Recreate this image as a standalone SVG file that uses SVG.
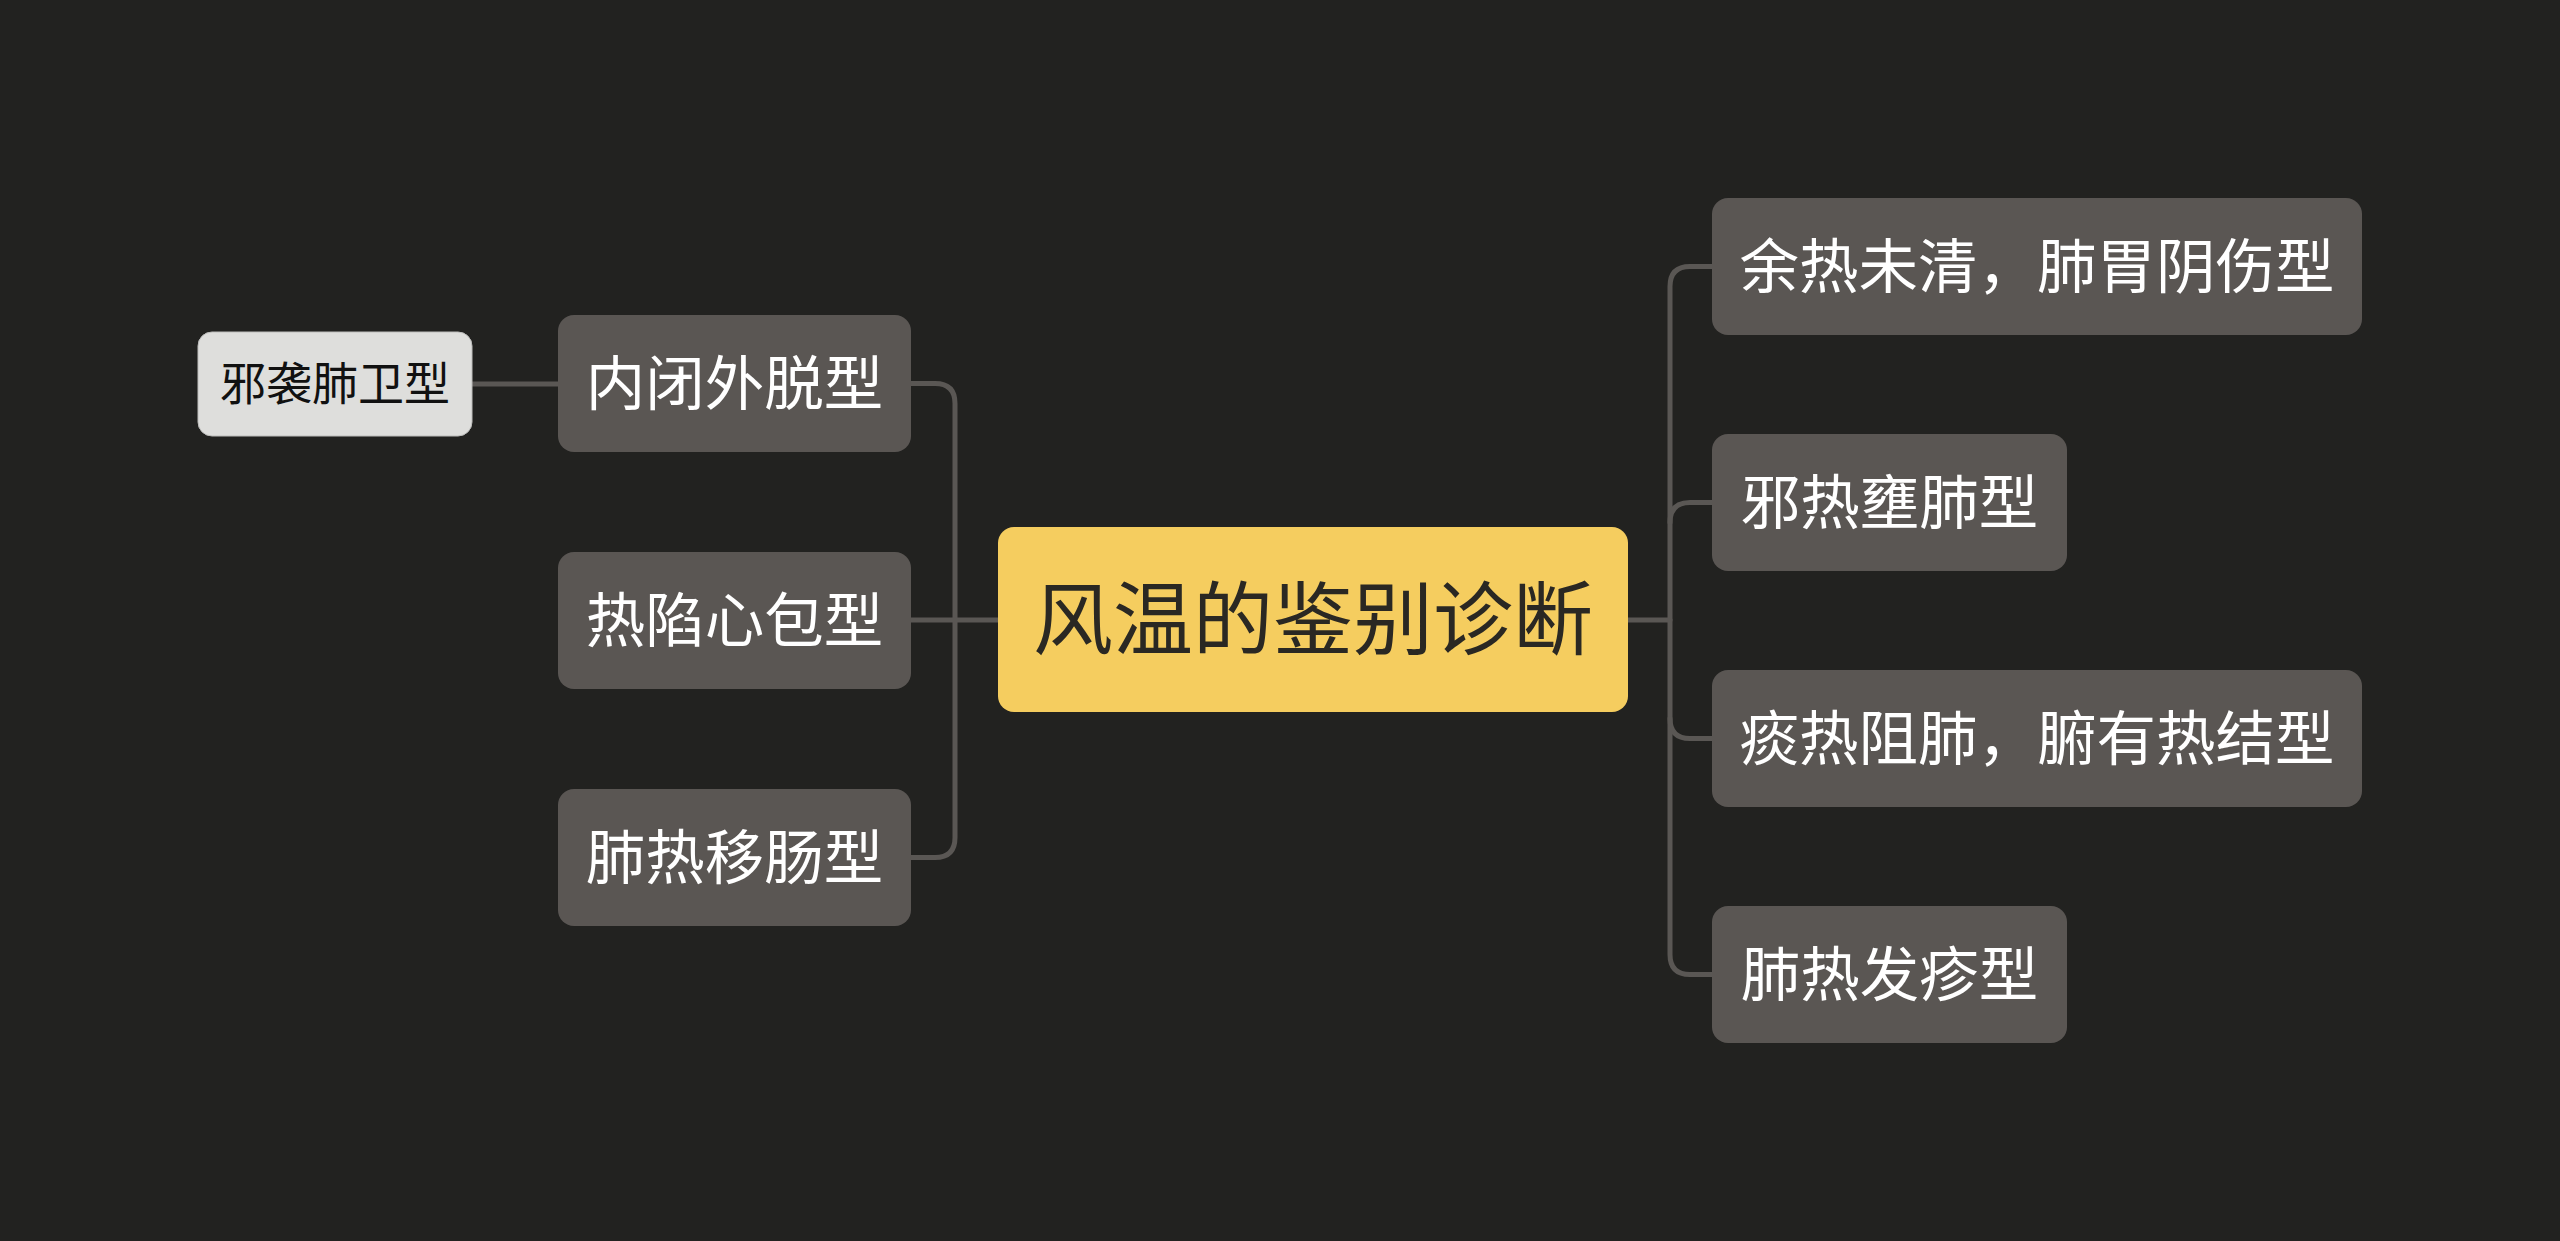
<svg xmlns="http://www.w3.org/2000/svg" width="2560" height="1241" viewBox="0 0 2560 1241">
<style>
.bg{fill:#222220}
.conn{fill:none;stroke:#5a5754;stroke-width:5;stroke-linecap:round}
.node rect{fill:#5a5653}
.node text{fill:#ffffff;font-family:"Noto Sans CJK SC","Noto Sans",sans-serif;font-size:59.5px;text-anchor:middle}
.root rect{fill:#f5cd5f}
.root text{fill:#2a2823;font-family:"Noto Sans CJK SC","Noto Sans",sans-serif;font-size:80px;text-anchor:middle}
.leaf rect{fill:#dededc;stroke:#bdbdbb;stroke-width:1}
.leaf text{fill:#111111;font-family:"Noto Sans CJK SC","Noto Sans",sans-serif;font-size:46px;text-anchor:middle}
</style>
<rect class="bg" x="0" y="0" width="2560" height="1241"/>
<g id="connectors">
<path class="conn" d="M911,383.5 H935 Q955,383.5 955,403.5 V837.5 Q955,857.5 935,857.5 H911"/>
<path class="conn" d="M911,620 H998"/>
<path class="conn" d="M472,384 H558"/>
<path class="conn" d="M1628,620 H1670"/>
<path class="conn" d="M1712,266.5 H1690 Q1670,266.5 1670,286.5 V954.5 Q1670,974.5 1690,974.5 H1712"/>
<path class="conn" d="M1712,502.5 H1690 Q1670,502.5 1670,522.5"/>
<path class="conn" d="M1712,738.5 H1690 Q1670,738.5 1670,718.5"/>
</g>
<g id="root" class="root">
<rect x="998" y="527" width="630" height="185" rx="16"/>
<text x="1313" y="648">风温的鉴别诊断</text>
</g>
<g id="left1" class="node">
<rect x="558" y="315" width="353" height="137" rx="16"/>
<text x="734.5" y="405">内闭外脱型</text>
</g>
<g id="left2" class="node">
<rect x="558" y="552" width="353" height="137" rx="16"/>
<text x="734.5" y="642">热陷心包型</text>
</g>
<g id="left3" class="node">
<rect x="558" y="789" width="353" height="137" rx="16"/>
<text x="734.5" y="879">肺热移肠型</text>
</g>
<g id="leaf1" class="leaf">
<rect x="198" y="332" width="274" height="104" rx="14"/>
<text x="335" y="400">邪袭肺卫型</text>
</g>
<g id="right1" class="node">
<rect x="1712" y="198" width="650" height="137" rx="16"/>
<text x="2037" y="288">余热未清，肺胃阴伤型</text>
</g>
<g id="right2" class="node">
<rect x="1712" y="434" width="355" height="137" rx="16"/>
<text x="1889.5" y="524">邪热壅肺型</text>
</g>
<g id="right3" class="node">
<rect x="1712" y="670" width="650" height="137" rx="16"/>
<text x="2037" y="760">痰热阻肺，腑有热结型</text>
</g>
<g id="right4" class="node">
<rect x="1712" y="906" width="355" height="137" rx="16"/>
<text x="1889.5" y="996">肺热发疹型</text>
</g>
</svg>
